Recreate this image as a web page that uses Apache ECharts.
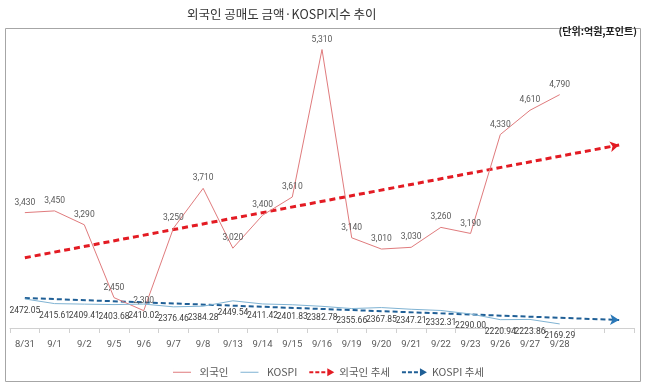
<!DOCTYPE html>
<html><head><meta charset="utf-8">
<script src="https://cdn.jsdelivr.net/npm/echarts@6/dist/echarts.min.js"></script>
<style>html,body{margin:0;padding:0;background:#fff}#c{width:647px;height:386px}</style>
</head><body><div id="c"></div>
<script>
// ---- data ----
const categories = ['8/31','9/1','9/2','9/5','9/6','9/7','9/8','9/13','9/14','9/15','9/16','9/19','9/20','9/21','9/22','9/23','9/26','9/27','9/28','',''];
const foreignShort = [3430,3450,3290,2450,2300,3250,3710,3020,3400,3610,5310,3140,3010,3030,3260,3190,4330,4610,4790];
const kospi = [2472.05,2415.61,2409.41,2403.68,2410.02,2376.46,2384.28,2449.54,2411.42,2401.83,2382.78,2355.66,2367.85,2347.21,2332.31,2290.00,2220.94,2223.86,2169.29];
// trend line end points: [category index, value]
const foreignTrend = [[0, 2910], [20, 4210]];
const kospiTrend = [[0, 2484], [20, 2217]];
const seriesNames = ['외국인', 'KOSPI', '외국인 추세', 'KOSPI 추세'];

const numFont = "Roboto,'Liberation Sans',sans-serif";
const krFont = "'Noto Sans CJK KR','Noto Sans',sans-serif";
function comma(v){ return String(v).replace(/\B(?=(\d{3})+(?!\d))/g, ','); }
const arrowIcon = 'path://M0,3h4v2h-4zM6,3h4v2h-4zM12,3h4v2h-4zM18,0l7,4l-7,4z';
const lineIcon = 'path://M0,3.5h18v1h-18zM0,0h0.01v8h-0.01z';

function trendData(pts, rot, color){
  return pts.map((p,i)=> i === pts.length-1
    ? {value:p, symbol:'arrow', symbolSize:[8,9], symbolRotate:rot, itemStyle:{color:color}}
    : {value:p, symbol:'none'});
}

const chart = echarts.init(document.getElementById('c'), null, {renderer:'canvas'});
chart.setOption({
  animation:false,
  backgroundColor:'#fff',
  title:{text:'외국인 공매도 금액·KOSPI지수 추이', left:182, top:3,
    textStyle:{fontFamily:krFont, fontSize:12.5, fontWeight:'normal', color:'#333'}},
  graphic:[
    {type:'rect', shape:{x:5.5, y:28.5, width:635, height:353}, style:{fill:'none', stroke:'#a6a6a6', lineWidth:1}, silent:true},
    {type:'text', right:10, top:26, style:{text:'(단위:억원,포인트)', font:"bold 10px 'Noto Sans CJK KR'", fill:'#222'}}
  ],
  legend:{
    left:168, top:362, itemWidth:25, itemHeight:8, itemGap:12,
    textStyle:{fontFamily:krFont, fontSize:10.5, color:'#595959'},
    data:[
      {name:seriesNames[0], icon:lineIcon, itemStyle:{color:'#e07b7d', borderWidth:0}},
      {name:seriesNames[1], icon:lineIcon, itemStyle:{color:'#7fb3d3', borderWidth:0}},
      {name:seriesNames[2], icon:arrowIcon, itemStyle:{color:'#e31b23', borderWidth:0}},
      {name:seriesNames[3], icon:arrowIcon, itemStyle:{color:'#1f5f96', borderWidth:0}}
    ]
  },
  grid:{left:10, right:13, top:40, bottom:58, containLabel:false},
  xAxis:{type:'category', data:categories, boundaryGap:true,
    axisLine:{lineStyle:{color:'#d0d0d0'}},
    axisTick:{show:true, length:5, lineStyle:{color:'#d0d0d0'}},
    axisLabel:{fontFamily:numFont, fontSize:9.5, color:'#595959', margin:12, interval:0}
  },
  yAxis:[
    {type:'value', min:2100, max:5420, show:false, splitLine:{show:false}},
    {type:'value', min:2120, max:5610, show:false, splitLine:{show:false}}
  ],
  series:[
    {name:seriesNames[0], type:'line', data:foreignShort, yAxisIndex:0, symbol:'circle', symbolSize:1,
      lineStyle:{color:'#e07b7d', width:1}, itemStyle:{color:'rgba(0,0,0,0)'},
      label:{show:true, position:'top', distance:5, fontFamily:numFont, fontSize:8.5, color:'#595959',
        formatter:p=>comma(p.value)}, z:5},
    {name:seriesNames[1], type:'line', data:kospi, yAxisIndex:1, symbol:'circle', symbolSize:1,
      lineStyle:{color:'#7fb3d3', width:1}, itemStyle:{color:'rgba(0,0,0,0)'},
      label:{show:true, position:'bottom', distance:7, fontFamily:numFont, fontSize:8.5, color:'#404040',
        formatter:p=>p.value.toFixed(2)}, z:5},
    {name:seriesNames[2], type:'line', yAxisIndex:0, symbol:'none', showSymbol:true,
      data:trendData(foreignTrend, -79.2, '#e31b23'),
      lineStyle:{color:'#e31b23', width:3, type:[6,4]}, itemStyle:{color:'#e31b23'}, z:4},
    {name:seriesNames[3], type:'line', yAxisIndex:1, symbol:'none', showSymbol:true,
      data:trendData(kospiTrend, -92.1, '#2a78b8'),
      lineStyle:{color:'#1f5f96', width:2, type:[5,3]}, itemStyle:{color:'#1f5f96'}, z:4}
  ]
});
</script></body></html>
